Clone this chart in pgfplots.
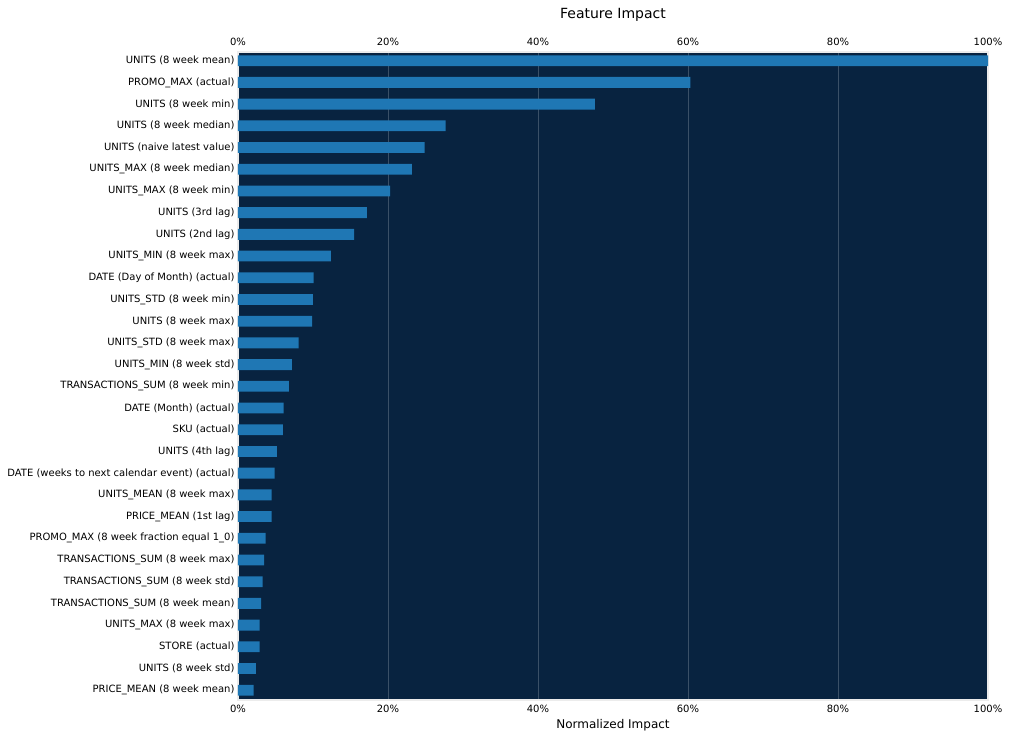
\documentclass[border=0pt]{standalone}
\usepackage{pgfplots}
\pgfplotsset{compat=1.18}
\usepackage{fontspec}
\setmainfont{DejaVu Sans}

\definecolor{navybg}{RGB}{8,35,64}
\definecolor{barblue}{RGB}{31,119,180}
\definecolor{gridcol}{RGB}{58,80,103}
\definecolor{framegray}{RGB}{236,236,236}

\begin{document}
\begin{tikzpicture}
\pgfplotsset{
  impact/.style={
    width=750pt, height=648pt,
    scale only axis=true,
    xmin=0, xmax=100,
    ymin=-0.4, ymax=29.45,
    y dir=reverse,
    xtick={0,20,...,100},
    xticklabel={\pgfmathprintnumber{\tick}\%},
    /pgf/number format/assume math mode=true,
    major tick length=0pt,
    ticklabel style={font=\fontsize{10}{12}\selectfont},
  }
}
\begin{axis}[
    impact,
    name=ax,
    axis background/.style={fill=navybg},
    axis line style={draw=framegray, line width=2.5pt},
    xmajorgrids=true,
    major grid style={draw=gridcol, line width=0.8pt},
    xticklabel style={yshift=-1.5pt},
    ytick={0,...,29},
    yticklabels={
      {UNITS (8 week mean)},
      {PROMO\_MAX (actual)},
      {UNITS (8 week min)},
      {UNITS (8 week median)},
      {UNITS (naive latest value)},
      {UNITS\_MAX (8 week median)},
      {UNITS\_MAX (8 week min)},
      {UNITS (3rd lag)},
      {UNITS (2nd lag)},
      {UNITS\_MIN (8 week max)},
      {DATE (Day of Month) (actual)},
      {UNITS\_STD (8 week min)},
      {UNITS (8 week max)},
      {UNITS\_STD (8 week max)},
      {UNITS\_MIN (8 week std)},
      {TRANSACTIONS\_SUM (8 week min)},
      {DATE (Month) (actual)},
      {SKU (actual)},
      {UNITS (4th lag)},
      {DATE (weeks to next calendar event) (actual)},
      {UNITS\_MEAN (8 week max)},
      {PRICE\_MEAN (1st lag)},
      {PROMO\_MAX (8 week fraction equal 1\_0)},
      {TRANSACTIONS\_SUM (8 week max)},
      {TRANSACTIONS\_SUM (8 week std)},
      {TRANSACTIONS\_SUM (8 week mean)},
      {UNITS\_MAX (8 week max)},
      {STORE (actual)},
      {UNITS (8 week std)},
      {PRICE\_MEAN (8 week mean)}
    },
    xlabel={Normalized Impact},
    xlabel style={font=\fontsize{12}{14}\selectfont, at={(0.5,0)}, anchor=center, yshift=-25pt},
]
\addplot[xbar, fill=barblue, draw=none, bar width=0.5]
  coordinates {
  (100,0) (60.3,1) (47.6,2) (27.7,3) (24.9,4) (23.2,5) (20.3,6) (17.2,7)
  (15.5,8) (12.4,9) (10.1,10) (10.0,11) (9.9,12) (8.1,13) (7.2,14)
  (6.8,15) (6.1,16) (6.0,17) (5.2,18) (4.9,19) (4.5,20) (4.5,21)
  (3.7,22) (3.5,23) (3.3,24) (3.1,25) (2.9,26) (2.9,27) (2.4,28) (2.1,29)
  };
\end{axis}
% top tick labels and title
\begin{axis}[
    impact,
    axis x line*=top,
    hide y axis,
    axis line style={draw=none},
    xticklabel style={yshift=3pt},
    title={Feature Impact},
    title style={font=\fontsize{14}{16}\selectfont, at={(0.5,1)}, anchor=center, yshift=31pt},
]
\addplot[draw=none] coordinates {(0,0)};
\end{axis}
\path ([shift={(-238pt,-40pt)}]ax.south west) rectangle ([shift={(22pt,52pt)}]ax.north east);
\end{tikzpicture}
\end{document}
